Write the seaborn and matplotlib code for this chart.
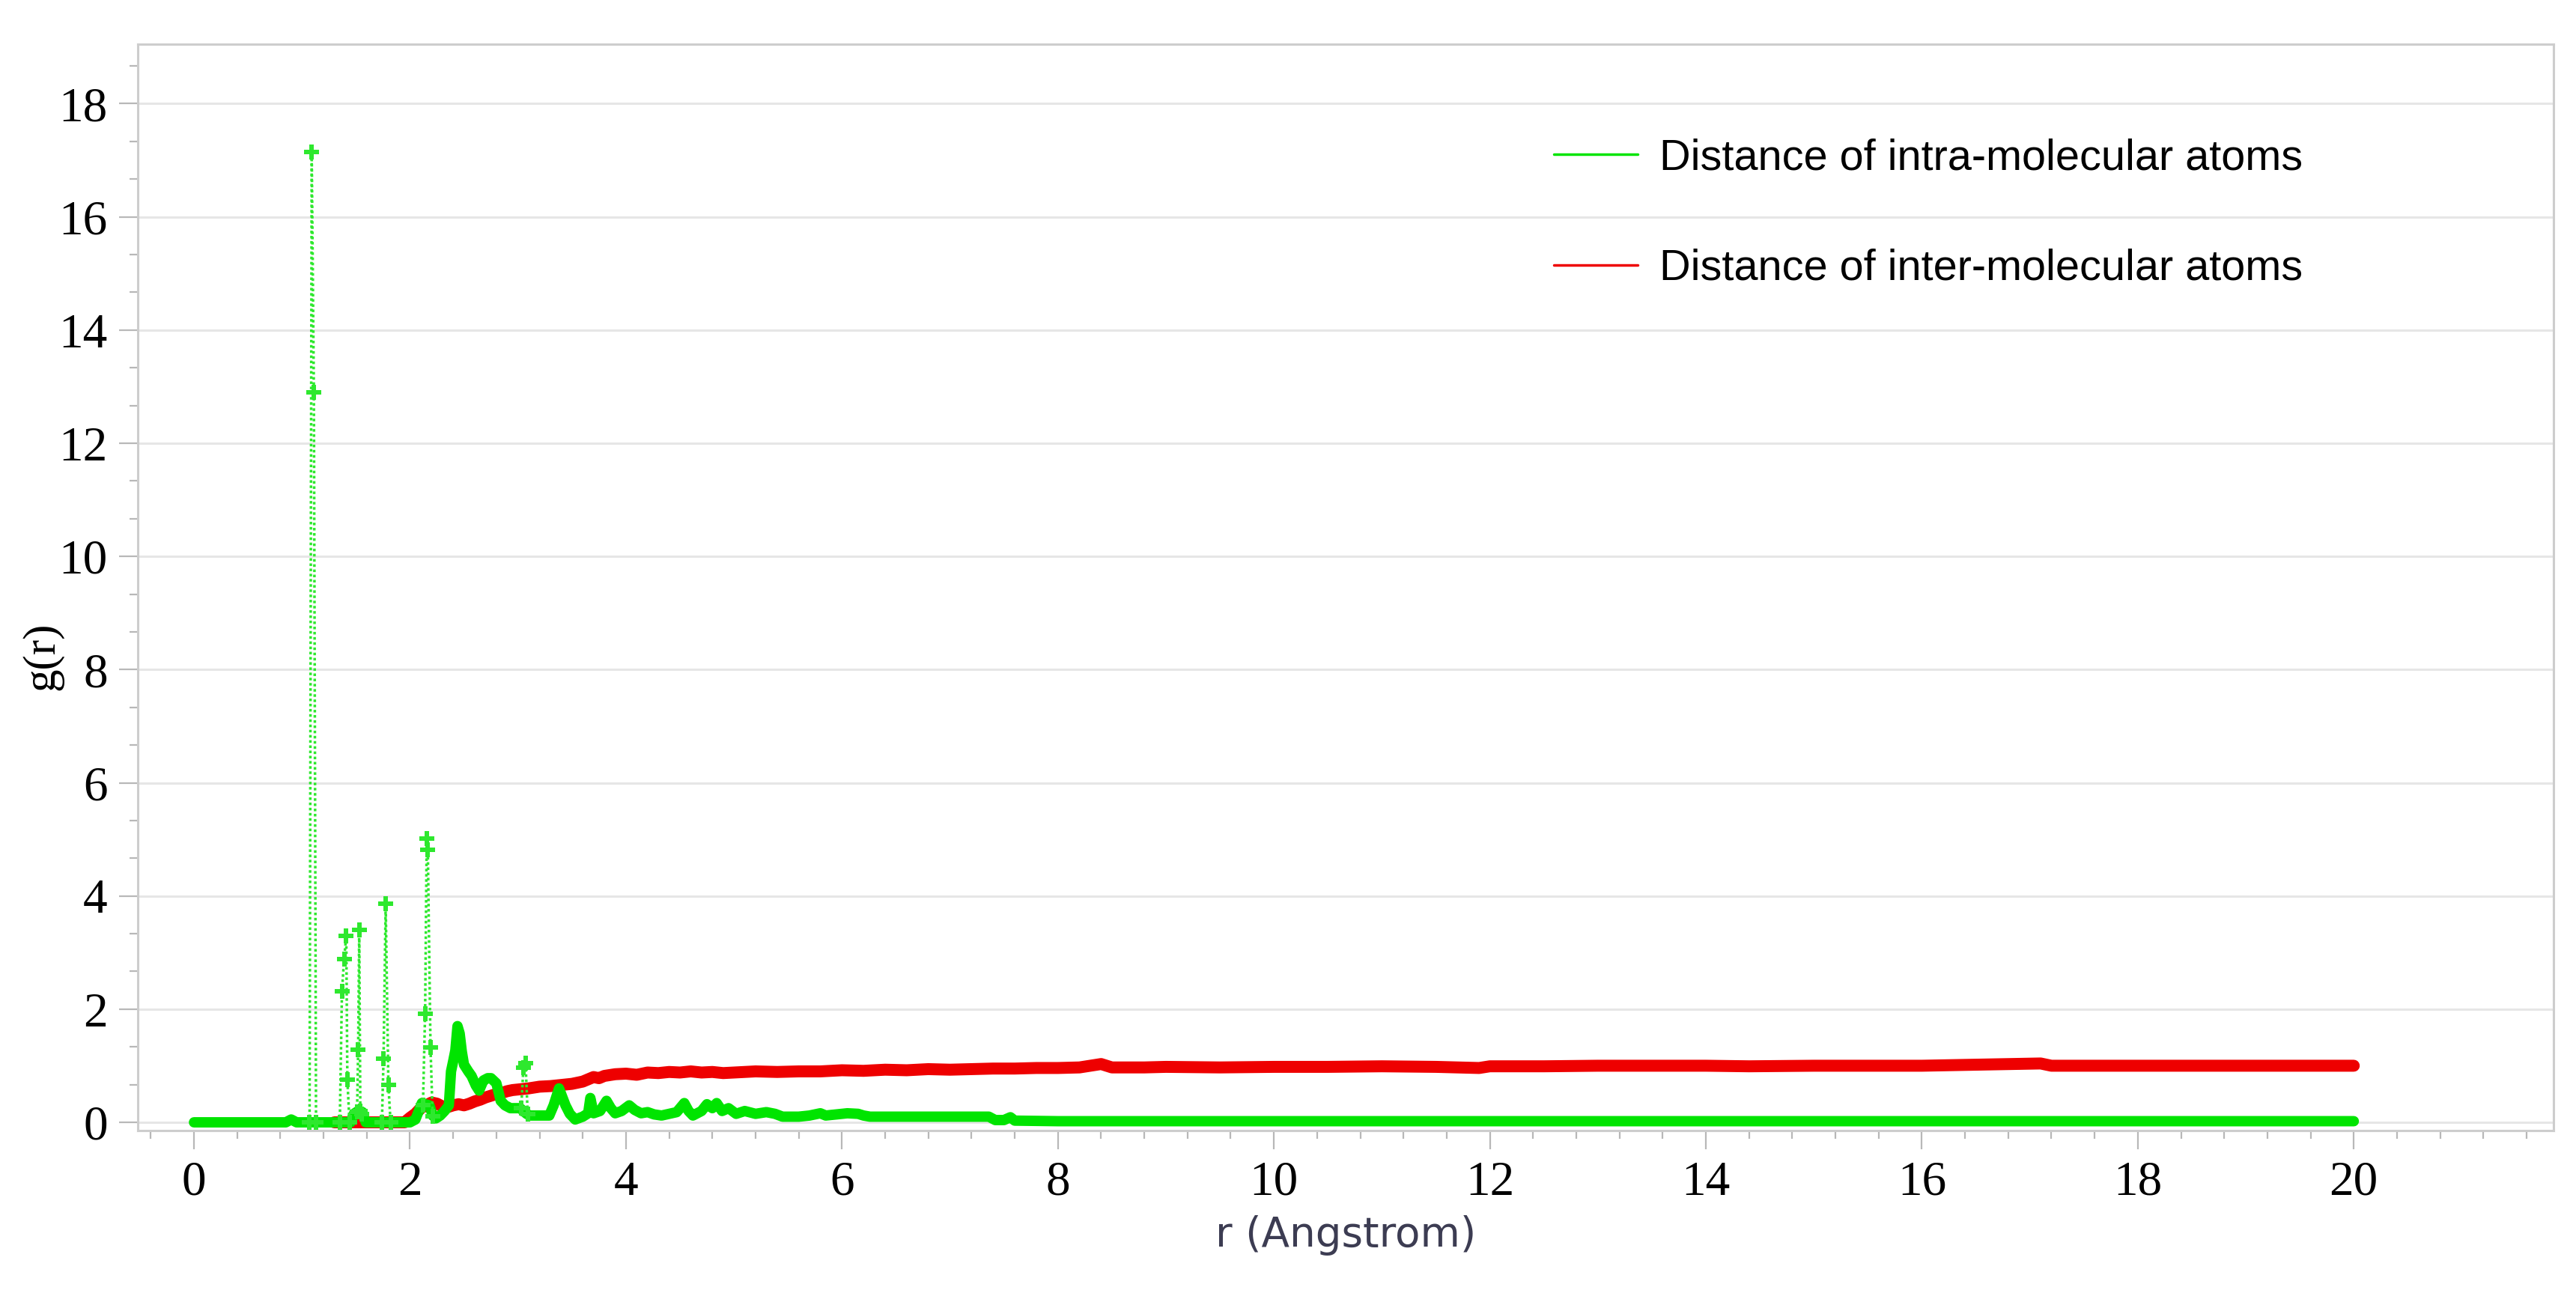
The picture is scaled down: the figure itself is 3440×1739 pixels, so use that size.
import numpy as np
import pandas as pd
import matplotlib
matplotlib.use("Agg")
import matplotlib.pyplot as plt
import seaborn as sns
from matplotlib.ticker import MultipleLocator

# ---------------- data ----------------
# intra-molecular g(r): smooth / low part
intra_r = [0, 0.85, 0.9, 0.95, 1.45, 1.48, 1.52, 1.56, 1.59, 2.0, 2.05, 2.11, 2.14, 2.18,
           2.21, 2.24, 2.28, 2.32, 2.36, 2.38, 2.40, 2.42, 2.44, 2.46, 2.48, 2.50, 2.54,
           2.57, 2.61, 2.64, 2.68, 2.72, 2.75, 2.80, 2.84, 2.88, 2.93, 2.98, 3.02, 3.08,
           3.11, 3.2, 3.29, 3.33, 3.38, 3.41, 3.44, 3.48, 3.53, 3.6, 3.65, 3.67, 3.7,
           3.76, 3.82, 3.86, 3.9, 3.96, 4.03, 4.08, 4.14, 4.2, 4.26, 4.33, 4.4, 4.47,
           4.54, 4.58, 4.62, 4.7, 4.75, 4.8, 4.84, 4.89, 4.95, 5.02, 5.1, 5.2, 5.3, 5.38,
           5.45, 5.5, 5.6, 5.7, 5.8, 5.85, 5.95, 6.05, 6.15, 6.2, 6.26, 6.4, 6.6, 6.8,
           7.0, 7.2, 7.36, 7.42, 7.5, 7.56, 7.6, 8.0, 20.0]
intra_g = [0, 0, 0.05, 0, 0, 0.15, 0.2, 0.18, 0, 0, 0.05, 0.34, 0.32, 0.3,
           0.12, 0.07, 0.12, 0.2, 0.3, 0.9, 1.08, 1.27, 1.7, 1.57, 1.25, 1.02, 0.9,
           0.82, 0.65, 0.56, 0.74, 0.78, 0.78, 0.69, 0.38, 0.3, 0.25, 0.25, 0.25, 0.15,
           0.12, 0.12, 0.12, 0.3, 0.6, 0.45, 0.3, 0.15, 0.05, 0.1, 0.16, 0.43, 0.16,
           0.2, 0.38, 0.25, 0.16, 0.2, 0.3, 0.22, 0.16, 0.18, 0.14, 0.12, 0.15, 0.18,
           0.34, 0.2, 0.12, 0.2, 0.32, 0.25, 0.34, 0.2, 0.25, 0.15, 0.2, 0.15, 0.18, 0.15,
           0.1, 0.1, 0.1, 0.12, 0.16, 0.12, 0.14, 0.16, 0.15, 0.12, 0.1, 0.1, 0.1, 0.1,
           0.1, 0.1, 0.1, 0.04, 0.04, 0.09, 0.03, 0.02, 0.02]

# intra-molecular g(r): sharp bonded peaks (bins around each peak)
peak_id = [1, 1, 1, 1,
           2, 2, 2, 2, 2, 2,
           3, 3, 3, 3, 3,
           4, 4, 4, 4, 4,
           5, 5, 5, 5, 5, 5,
           6, 6, 6, 6]
peak_r = [1.07, 1.09, 1.11, 1.13,
          1.35, 1.37, 1.39, 1.41, 1.42, 1.44,
          1.51, 1.52, 1.53, 1.54, 1.55,
          1.74, 1.755, 1.775, 1.80, 1.82,
          2.12, 2.14, 2.155, 2.165, 2.19, 2.21,
          3.03, 3.05, 3.07, 3.09]
peak_g = [0, 17.15, 12.9, 0,
          0, 2.31, 2.89, 3.30, 0.75, 0,
          0.18, 1.28, 3.40, 0.2, 0.15,
          0, 1.12, 3.86, 0.66, 0,
          0.3, 1.92, 5.02, 4.82, 1.32, 0.1,
          0.25, 0.96, 1.05, 0.15]

# inter-molecular g(r)
inter_r = [1.3, 1.95, 2.0, 2.05, 2.1, 2.15, 2.2, 2.25, 2.3, 2.35, 2.4, 2.45, 2.5, 2.55,
           2.6, 2.65, 2.7, 2.75, 2.8, 2.85, 2.9, 2.95, 3.0, 3.1, 3.2, 3.3, 3.4, 3.5,
           3.6, 3.65, 3.7, 3.75, 3.8, 3.9, 4.0, 4.1, 4.2, 4.3, 4.4, 4.5, 4.6, 4.7, 4.8,
           4.9, 5.0, 5.2, 5.4, 5.6, 5.8, 6.0, 6.2, 6.4, 6.6, 6.8, 7.0, 7.2, 7.4, 7.6,
           7.8, 8.0, 8.2, 8.4, 8.5, 8.8, 9.0, 9.5, 10.0, 10.5, 11.0, 11.5, 11.9, 12.0,
           12.5, 13.0, 14.0, 14.4, 15.0, 16.0, 17.1, 17.2, 18.0, 20.0]
inter_g = [0, 0, 0.08, 0.15, 0.25, 0.3, 0.35, 0.33, 0.28, 0.27, 0.3, 0.32, 0.3, 0.33,
           0.37, 0.4, 0.44, 0.47, 0.5, 0.52, 0.55, 0.57, 0.58, 0.6, 0.63, 0.64, 0.66, 0.68,
           0.72, 0.76, 0.8, 0.78, 0.82, 0.85, 0.86, 0.84, 0.88, 0.87, 0.89, 0.88, 0.9, 0.88, 0.89,
           0.87, 0.88, 0.9, 0.89, 0.9, 0.9, 0.92, 0.91, 0.93, 0.92, 0.94, 0.93, 0.94, 0.95, 0.95,
           0.96, 0.96, 0.97, 1.03, 0.97, 0.97, 0.98, 0.97, 0.98, 0.98, 0.99, 0.98, 0.96, 0.99,
           0.99, 1.0, 1.0, 0.99, 1.0, 1.0, 1.04, 1.0, 1.0, 1.0]

x_ticks = [0, 2, 4, 6, 8, 10, 12, 14, 16, 18, 20]
y_ticks = [0, 2, 4, 6, 8, 10, 12, 14, 16, 18]
label_intra = "Distance of intra-molecular atoms"
label_inter = "Distance of inter-molecular atoms"

intra_df = pd.DataFrame({"r": intra_r, "g": intra_g})
peaks_df = pd.DataFrame({"peak": peak_id, "r": peak_r, "g": peak_g})
inter_df = pd.DataFrame({"r": inter_r, "g": inter_g})

GREEN = "#00e400"
RED = "#ee0000"

# ---------------- figure ----------------
sns.set_theme(style="white")
fig = plt.figure(figsize=(34.41, 17.39), dpi=100)
ax = fig.add_axes([0.0535, 0.1317, 0.9375, 0.8343])

sns.lineplot(data=inter_df, x="r", y="g", ax=ax, color=RED, lw=11.5,
             label=label_inter, zorder=3)
sns.lineplot(data=intra_df, x="r", y="g", ax=ax, color=GREEN, lw=10,
             label=label_intra, zorder=4)
sns.lineplot(data=peaks_df, x="r", y="g", units="peak", estimator=None, ax=ax,
             color="#2ee82e", lw=2.5, linestyle=(0, (1, 1)), marker="P",
             markersize=14, markeredgewidth=0, legend=False, zorder=5)

ax.set_xlim(-0.52, 21.85)
ax.set_ylim(-0.145, 19.05)
ax.xaxis.set_major_locator(MultipleLocator(2))
ax.xaxis.set_minor_locator(MultipleLocator(0.4))
ax.yaxis.set_major_locator(MultipleLocator(2))
ax.yaxis.set_minor_locator(MultipleLocator(2 / 3))
ax.set_xticks(x_ticks)
ax.set_yticks(y_ticks)
ax.set_xticklabels([str(t) for t in x_ticks])
ax.set_yticklabels([str(t) for t in y_ticks])

ax.grid(axis="y", which="major", color="#e6e6e6", lw=2.2)
ax.grid(axis="x", visible=False)
ax.set_axisbelow(True)
for s in ax.spines.values():
    s.set_visible(True)
    s.set_color("#cdcdcd")
    s.set_linewidth(2.2)

ax.tick_params(axis="both", which="both", direction="out", color="#b8b8b8",
               bottom=True, left=True)
ax.tick_params(axis="both", which="major", length=18, width=1.6)
ax.tick_params(axis="both", which="minor", length=8, width=1.6)
ax.tick_params(axis="x", which="major", pad=11)
ax.tick_params(axis="y", which="major", pad=11)
for lab in ax.get_xticklabels() + ax.get_yticklabels():
    lab.set_fontfamily("Liberation Serif")
    lab.set_fontsize(47)
    lab.set_color("black")

ax.set_xlabel("r (Angstrom)", fontfamily="DejaVu Sans", fontsize=39.5, color="#3c3c52")
ax.xaxis.set_label_coords(0.5, -0.078)
ax.set_ylabel("g(r)", fontfamily="Liberation Serif", fontsize=44, color="black")
ax.yaxis.set_label_coords(-0.031, 0.437)

h, l = ax.get_legend_handles_labels()
order = [l.index(label_intra), l.index(label_inter)]
leg = ax.legend([h[i] for i in order], [l[i] for i in order],
                loc="upper left", bbox_to_anchor=(0.603, 0.894),
                bbox_transform=fig.transFigure, frameon=False,
                prop={"family": "Liberation Sans", "size": 41.5},
                labelcolor="black",
                handlelength=1.95, handletextpad=0.5, labelspacing=1.62,
                borderpad=0, borderaxespad=0)
for hl in leg.legend_handles:
    hl.set_linewidth(2.5)

fig.savefig("out.png", dpi=100, facecolor="white")
